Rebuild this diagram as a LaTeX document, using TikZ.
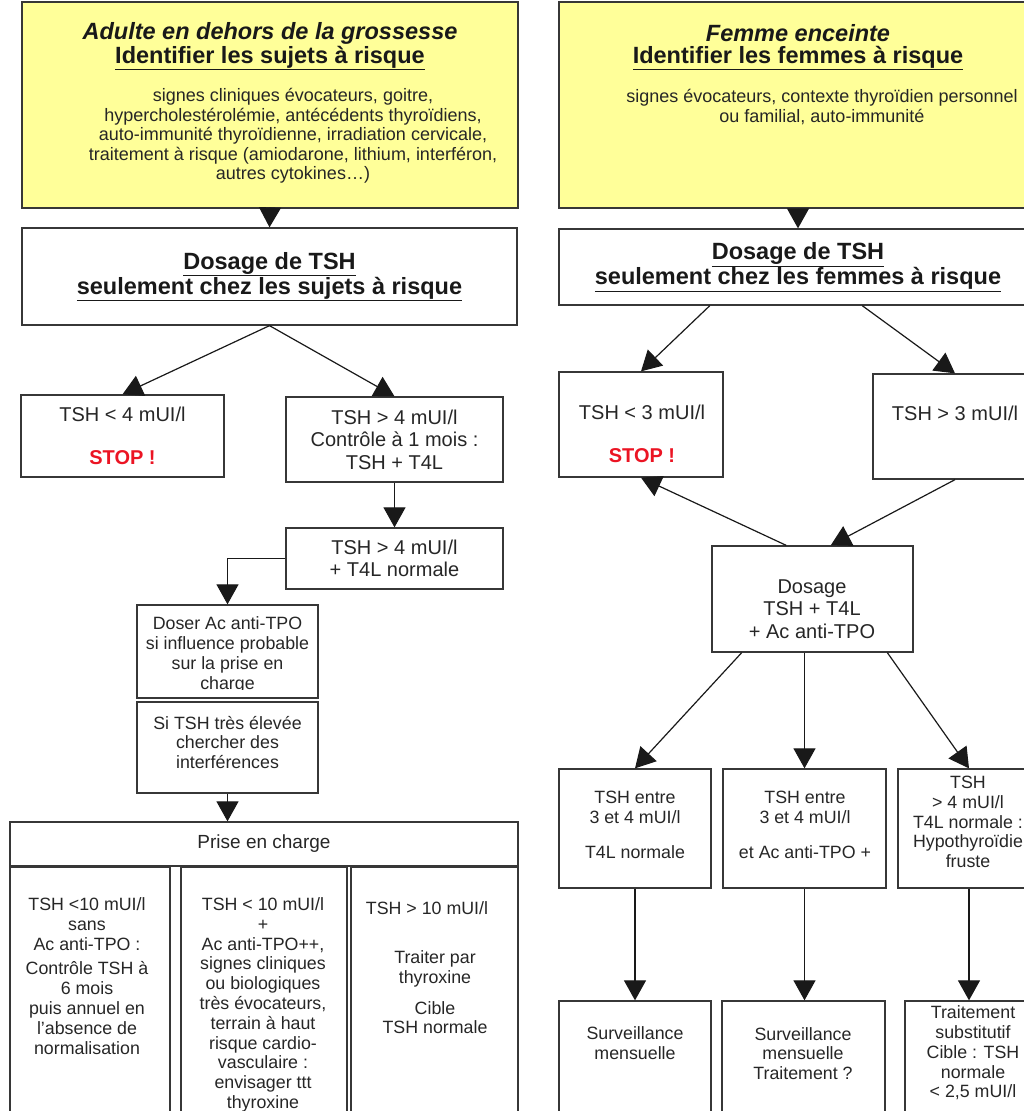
\documentclass[tikz,border=0pt]{standalone}
\usepackage{fontspec}
\setmainfont{Liberation Sans}
\usetikzlibrary{positioning,arrows.meta,calc}
\definecolor{jaune}{RGB}{255,255,153}
\definecolor{rouge}{RGB}{235,20,35}
\definecolor{trait}{RGB}{55,55,55}

\tikzset{
  boite/.style={draw=trait, line width=1.3pt, inner sep=0pt, align=center, text=black!85},
  fleche/.style={draw=black!90, line width=1.2pt, -{Triangle[width=22pt,length=20pt]}},
  titre/.style={font=\fontsize{23.5}{26}\selectfont\bfseries, text=black!90},
  entete/.style={font=\fontsize{23.5}{25}\selectfont\bfseries, text=black!90},
  corps/.style={font=\fontsize{18}{19.6}\selectfont, align=center, text=black!85},
  moyen/.style={font=\fontsize{20}{22.5}\selectfont, align=center, text=black!85},
  cellule/.style={font=\fontsize{17.8}{19.8}\selectfont, align=center, text=black!85},
}

\begin{document}
\begin{tikzpicture}[x=1pt,y=-1pt]
	\useasboundingbox (0,0) rectangle (1023,1111);

	% --- colonne gauche : hors grossesse
	\node[boite, fill=jaune, minimum width=496pt, minimum height=206pt] (jaune1) at (270,105) {};
	\node[titre] (titre1) at (270,33) {\itshape Adulte en dehors de la grossesse};
	\node[titre] (sous1) at (270,58) {\underline{Identifier les sujets à risque}};
	\node[corps] (corps1) at (293,136) {signes cliniques évocateurs, goitre,\\
		hypercholestérolémie, antécédents thyroïdiens,\\
		auto-immunité thyroïdienne, irradiation cervicale,\\
		traitement à risque (amiodarone, lithium, interféron,\\
		autres cytokines\dots)};

	\node[boite, entete, minimum width=495pt, minimum height=97pt]
		(dos1) at (269.5,276.5) {\underline{Dosage de TSH}\\ \underline{seulement chez les sujets à risque}};

	\node[boite, moyen, minimum width=203pt, minimum height=82pt] (tshlt4) at (122.5,436)
		{TSH < 4 mUI/l\\[21pt]{\color{rouge}\bfseries STOP !}};
	\node[boite, moyen, minimum width=217pt, minimum height=85pt] (tshgt4) at (394.5,439.5)
		{TSH > 4 mUI/l\\Contrôle à 1 mois :\\TSH + T4L};
	\node[boite, moyen, minimum width=217pt, minimum height=61pt] (tsh4n) at (394.5,558.5)
		{TSH > 4 mUI/l\\+ T4L normale};

	\node[boite, minimum width=181pt, minimum height=93pt] (doser) at (227.5,651.5) {};
	\begin{scope}
		\clip (137,605) rectangle (318,689);
		\node[cellule] (doser-txt) at (227.5,655) {Doser Ac anti-TPO\\si influence probable\\sur la prise en\\charge};
	\end{scope}
	\node[boite, minimum width=181pt, minimum height=91pt] (sitsh) at (227.5,747.5) {};
	\node[cellule] (sitsh-txt) at (227.5,742.5) {Si TSH très élevée\\chercher des\\interférences};

	% prise en charge
	\node[boite, font=\fontsize{19}{22}\selectfont, minimum width=508pt, minimum height=44pt] (prise) at (264,844) {Prise en charge};
	\node[boite, minimum width=160pt, minimum height=273pt] (col1) at (90,1003.5) {};
	\node[boite, minimum width=166pt, minimum height=273pt] (col2) at (264,1003.5) {};
	\node[boite, minimum width=167pt, minimum height=273pt] (col3) at (434.5,1003.5) {};
	\node[cellule, anchor=north] (col1-txt) at (87,894) {TSH <10 mUI/l\\sans\\Ac anti-TPO :\\[5pt]
		Contrôle TSH à\\6 mois\\puis annuel en\\l'absence de\\normalisation};
	\node[cellule, anchor=north] (col2-txt) at (263,894) {TSH < 10 mUI/l\\+\\Ac anti-TPO++,\\signes cliniques\\
		ou biologiques\\très évocateurs,\\terrain à haut\\risque cardio-\\vasculaire :\\envisager ttt\\thyroxine};
	\node[cellule] (col3-a) at (427,908) {TSH > 10 mUI/l};
	\node[cellule, anchor=north] (col3-b) at (435,947) {Traiter par\\thyroxine\\[11pt]Cible\\TSH normale};

	% --- colonne droite : femme enceinte
	\node[boite, fill=jaune, minimum width=478pt, minimum height=206pt] (jaune2) at (798,105) {};
	\node[titre] (titre2) at (798,33) {\itshape Femme enceinte};
	\node[titre] (sous2) at (798,58) {\underline{Identifier les femmes à risque}};
	\node[corps] (corps2) at (822,107) {signes évocateurs, contexte thyroïdien personnel\\ou familial, auto-immunité};

	\node[boite, entete, minimum width=478pt, minimum height=76pt]
		(dos2) at (798,267) {\underline{Dosage de TSH}\\ \underline{seulement chez les femmes à risque}};

	\node[boite, minimum width=164pt, minimum height=105pt] (tshlt3) at (641,424.5) {};
	\node[moyen] (tshlt3-txt) at (642,434) {TSH < 3 mUI/l\\[20pt]{\color{rouge}\bfseries STOP !}};
	\node[boite, minimum width=164pt, minimum height=105pt] (tshgt3) at (955,426.5) {};
	\node[moyen] (tshgt3-txt) at (955,413) {TSH > 3 mUI/l};

	\node[boite, minimum width=201pt, minimum height=106pt] (dos3) at (812.5,599) {};
	\node[moyen] (dos3-txt) at (812,609) {Dosage\\TSH + T4L\\+ Ac anti-TPO};

	\node[boite, minimum width=152pt, minimum height=119pt] (ra) at (635,828.5) {};
	\node[boite, minimum width=163pt, minimum height=119pt] (rb) at (804.5,828.5) {};
	\node[boite, minimum width=142pt, minimum height=119pt] (rc) at (969,828.5) {};
	\node[cellule] (ra-txt) at (635,825) {TSH entre\\3 et 4 mUI/l\\[15pt]T4L normale};
	\node[cellule] (rb-txt) at (805,825) {TSH entre\\3 et 4 mUI/l\\[15pt]et Ac anti-TPO +};
	\node[cellule] (rc-txt) at (968,822) {TSH\\> 4 mUI/l\\T4L normale :\\Hypothyroïdie\\fruste};

	\node[boite, minimum width=152pt, minimum height=129pt] (sa) at (635,1065.5) {};
	\node[boite, minimum width=163pt, minimum height=129pt] (sb) at (803.5,1065.5) {};
	\node[boite, minimum width=136pt, minimum height=129pt] (sc) at (973,1065.5) {};
	\node[cellule] (sa-txt) at (635,1043.5) {Surveillance\\mensuelle};
	\node[cellule] (sb-txt) at (803,1053.5) {Surveillance\\mensuelle\\Traitement ?};
	\node[cellule] (sc-txt) at (973,1053) {Traitement\\substitutif\\Cible : TSH\\normale\\< 2,5 mUI/l};

	% fleches gauche
	\draw[fleche] (jaune1.south) -- (dos1.north);
	\draw[fleche] (dos1.south) -- (tshlt4.north);
	\draw[fleche] (dos1.south) -- (tshgt4.north);
	\draw[fleche] (tshgt4.south) -- (tsh4n.north);
	\draw[fleche] (tsh4n.west) -| (doser.north);
	\draw[fleche] (sitsh.south) -- (sitsh.south |- prise.north);

	% fleches droite
	\draw[fleche] (jaune2.south) -- (dos2.north);
	\draw[fleche] ($(dos2.south west)!0.316!(dos2.south east)$) -- (tshlt3.north);
	\draw[fleche] ($(dos2.south west)!0.634!(dos2.south east)$) -- (tshgt3.north);
	\draw[fleche] ($(dos3.north west)!0.37!(dos3.north east)$) -- (tshlt3.south);
	\draw[fleche] (tshgt3.south) -- ($(dos3.north west)!0.59!(dos3.north east)$);
	\draw[fleche] ($(dos3.south west)!0.15!(dos3.south east)$) -- (ra.north);
	\draw[fleche] (rb.north |- dos3.south) -- (rb.north);
	\draw[fleche] ($(dos3.south west)!0.87!(dos3.south east)$) -- (rc.north);
	\draw[fleche] (ra.south) -- (sa.north);
	\draw[fleche] (rb.south) -- (rb.south |- sb.north);
	\draw[fleche] (rc.south) -- (rc.south |- sc.north);

\end{tikzpicture}
\end{document}
